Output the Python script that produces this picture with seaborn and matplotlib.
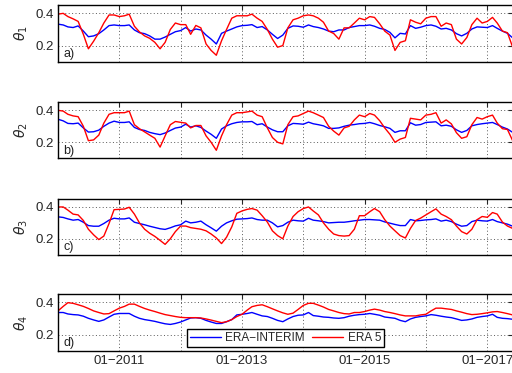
import numpy as np
import pandas as pd
import matplotlib
matplotlib.use("Agg")
import matplotlib.pyplot as plt
import matplotlib.dates as mdates
import seaborn as sns

# ---------------- data (monthly, Jan 2010 - Jun 2017) ----------------
start_month = "2010-01-01"
series_names = ["ERA\u2212INTERIM", "ERA 5"]
panel_labels = ["a)", "b)", "c)", "d)"]
ylabels = [r"$\theta_1$", r"$\theta_2$", r"$\theta_3$", r"$\theta_4$"]

interim_1 = [0.333,0.328,0.316,0.312,0.322,0.29,0.255,0.26,0.274,0.297,0.324,0.328,
             0.324,0.324,0.328,0.297,0.28,0.274,0.26,0.24,0.24,0.253,0.27,0.286,
             0.293,0.312,0.29,0.303,0.297,0.265,0.24,0.21,0.276,0.29,0.303,0.316,
             0.324,0.326,0.33,0.312,0.318,0.297,0.27,0.244,0.265,0.307,0.322,0.32,
             0.314,0.328,0.318,0.312,0.303,0.29,0.286,0.297,0.297,0.312,0.318,0.324,
             0.324,0.328,0.32,0.307,0.30,0.282,0.248,0.276,0.272,0.324,0.307,0.314,
             0.324,0.328,0.32,0.303,0.307,0.297,0.274,0.26,0.276,0.303,0.316,0.314,
             0.312,0.324,0.307,0.29,0.276,0.248]
era5_1 = [0.395,0.40,0.38,0.366,0.35,0.27,0.18,0.227,0.28,0.34,0.39,0.39,
          0.38,0.385,0.395,0.32,0.285,0.26,0.245,0.22,0.18,0.22,0.30,0.34,
          0.33,0.33,0.27,0.325,0.31,0.21,0.17,0.14,0.23,0.30,0.37,0.385,
          0.385,0.385,0.395,0.37,0.35,0.30,0.24,0.19,0.20,0.31,0.36,0.37,
          0.385,0.39,0.385,0.37,0.345,0.29,0.275,0.24,0.31,0.31,0.34,0.37,
          0.36,0.38,0.375,0.335,0.29,0.265,0.17,0.22,0.23,0.36,0.345,0.335,
          0.37,0.38,0.38,0.32,0.34,0.33,0.24,0.21,0.25,0.33,0.37,0.34,
          0.35,0.375,0.34,0.29,0.28,0.19]

interim_2 = [0.344,0.334,0.318,0.316,0.32,0.29,0.264,0.266,0.276,0.30,0.32,0.332,
             0.324,0.324,0.328,0.293,0.28,0.274,0.262,0.254,0.248,0.258,0.274,0.289,
             0.295,0.313,0.295,0.303,0.293,0.27,0.25,0.225,0.283,0.303,0.316,0.324,
             0.328,0.328,0.33,0.31,0.316,0.295,0.278,0.266,0.266,0.303,0.318,0.316,
             0.313,0.326,0.316,0.31,0.303,0.287,0.287,0.29,0.30,0.307,0.311,0.316,
             0.318,0.324,0.316,0.305,0.297,0.287,0.262,0.272,0.272,0.322,0.307,0.311,
             0.324,0.326,0.328,0.303,0.307,0.30,0.278,0.262,0.274,0.303,0.311,0.316,
             0.32,0.324,0.311,0.295,0.283,0.262]
era5_2 = [0.40,0.395,0.375,0.365,0.36,0.30,0.21,0.215,0.245,0.32,0.375,0.385,
          0.385,0.385,0.395,0.31,0.285,0.265,0.245,0.225,0.17,0.24,0.31,0.33,
          0.325,0.32,0.29,0.305,0.305,0.24,0.20,0.15,0.24,0.31,0.37,0.385,
          0.385,0.39,0.395,0.37,0.36,0.29,0.23,0.20,0.19,0.31,0.36,0.365,
          0.38,0.395,0.385,0.37,0.355,0.30,0.27,0.245,0.29,0.30,0.34,0.37,
          0.36,0.38,0.37,0.335,0.29,0.25,0.20,0.22,0.23,0.35,0.345,0.34,
          0.37,0.375,0.385,0.32,0.34,0.315,0.26,0.225,0.235,0.31,0.355,0.345,
          0.36,0.37,0.32,0.285,0.28,0.21]

interim_3 = [0.338,0.334,0.325,0.317,0.321,0.304,0.283,0.279,0.279,0.296,0.317,0.329,
             0.325,0.325,0.331,0.304,0.296,0.288,0.279,0.271,0.263,0.259,0.269,0.281,
             0.288,0.311,0.30,0.304,0.311,0.288,0.269,0.248,0.279,0.30,0.313,0.323,
             0.325,0.327,0.331,0.321,0.317,0.317,0.30,0.275,0.283,0.304,0.317,0.313,
             0.311,0.329,0.317,0.313,0.308,0.30,0.302,0.304,0.304,0.308,0.313,0.317,
             0.321,0.321,0.319,0.317,0.306,0.298,0.29,0.283,0.283,0.321,0.313,0.315,
             0.319,0.321,0.325,0.311,0.317,0.308,0.292,0.279,0.283,0.308,0.317,0.313,
             0.311,0.321,0.308,0.30,0.292,0.279]
era5_3 = [0.40,0.40,0.38,0.355,0.35,0.315,0.26,0.225,0.195,0.217,0.296,0.383,
          0.385,0.387,0.398,0.355,0.30,0.26,0.235,0.215,0.19,0.165,0.20,0.245,
          0.28,0.28,0.27,0.265,0.26,0.25,0.23,0.205,0.17,0.21,0.275,0.36,
          0.375,0.385,0.39,0.38,0.345,0.305,0.25,0.22,0.20,0.28,0.34,0.37,
          0.39,0.40,0.375,0.35,0.30,0.26,0.23,0.22,0.217,0.22,0.26,0.345,
          0.345,0.37,0.39,0.37,0.32,0.28,0.25,0.22,0.205,0.265,0.315,0.33,
          0.35,0.37,0.388,0.355,0.34,0.32,0.28,0.245,0.23,0.26,0.32,0.34,
          0.335,0.365,0.355,0.305,0.28,0.265]

interim_4 = [0.337,0.337,0.328,0.324,0.322,0.314,0.301,0.291,0.282,0.291,0.309,0.326,
             0.331,0.331,0.331,0.314,0.301,0.293,0.288,0.282,0.274,0.267,0.263,0.269,
             0.278,0.291,0.303,0.305,0.301,0.288,0.278,0.269,0.269,0.28,0.293,0.322,
             0.326,0.331,0.337,0.326,0.316,0.312,0.301,0.288,0.28,0.297,0.312,0.32,
             0.322,0.337,0.318,0.314,0.309,0.307,0.303,0.301,0.305,0.314,0.32,0.324,
             0.326,0.331,0.326,0.32,0.309,0.305,0.301,0.288,0.28,0.297,0.307,0.312,
             0.316,0.324,0.32,0.314,0.309,0.305,0.297,0.288,0.291,0.297,0.307,0.312,
             0.316,0.326,0.307,0.301,0.299,0.295]
era5_4 = [0.347,0.375,0.398,0.394,0.385,0.375,0.362,0.347,0.337,0.328,0.33,0.347,
          0.364,0.375,0.389,0.389,0.375,0.362,0.352,0.343,0.333,0.324,0.318,0.312,
          0.307,0.305,0.305,0.305,0.303,0.297,0.29,0.282,0.274,0.28,0.293,0.312,
          0.326,0.352,0.373,0.381,0.385,0.373,0.36,0.347,0.335,0.326,0.333,0.356,
          0.381,0.394,0.394,0.383,0.371,0.356,0.347,0.337,0.33,0.328,0.337,0.337,
          0.343,0.352,0.358,0.352,0.343,0.337,0.33,0.322,0.316,0.316,0.316,0.322,
          0.326,0.347,0.364,0.364,0.36,0.356,0.347,0.339,0.33,0.324,0.326,0.33,
          0.335,0.341,0.343,0.337,0.33,0.322]

interim_all = [interim_1, interim_2, interim_3, interim_4]
era5_all = [era5_1, era5_2, era5_3, era5_4]

# ---------------- style ----------------
sns.set_style("white")
plt.rcParams["font.family"] = ["Liberation Sans", "DejaVu Sans"]
plt.rcParams["mathtext.fontset"] = "dejavusans"
plt.rcParams["axes.linewidth"] = 1.0

fig = plt.figure(figsize=(5.12, 3.73), dpi=100)
left = 58 / 512
width = (513 - 58) / 512
tops = [5.3, 102.3, 199.0, 294.3]
bots = [61.7, 158.3, 254.7, 350.7]

n = len(interim_1)
dates = pd.date_range(start_month, periods=n, freq="MS")
palette = {series_names[0]: "#0000ff", series_names[1]: "#ff0000"}

xmin = pd.Timestamp("2010-01-01")
xmax = pd.Timestamp("2017-06-03")

for i in range(4):
    ax = fig.add_axes([left, 1 - bots[i] / 373, width, (bots[i] - tops[i]) / 373])
    df = pd.DataFrame({
        "date": list(dates) * 2,
        "theta": interim_all[i] + era5_all[i],
        "dataset": [series_names[0]] * n + [series_names[1]] * n,
    })
    sns.lineplot(data=df, x="date", y="theta", hue="dataset", palette=palette,
                 hue_order=series_names, ax=ax, linewidth=1.0,
                 legend=(i == 3))
    ax.set_xlim(xmin, xmax)
    ax.set_ylim(0.1, 0.45)
    ax.set_yticks([0.2, 0.4])
    ax.set_yticklabels(["0.2", "0.4"])
    ax.xaxis.set_major_locator(mdates.YearLocator())
    if i == 3:
        ax.xaxis.set_major_formatter(plt.FuncFormatter(
            lambda v, p: ("01\u2212%d" % mdates.num2date(v).year)
            if mdates.num2date(v).year % 2 == 1 else ""))
    else:
        ax.set_xticklabels([])
    ax.set_xlabel("")
    ax.set_ylabel(ylabels[i], fontsize=10, labelpad=4)
    ax.tick_params(direction="in", top=True, right=True, length=3.5,
                   width=0.8, labelsize=9.5, pad=3)
    ax.grid(True, linestyle=(0, (1, 2.5)), color="0.35", linewidth=0.7)
    for s in ax.spines.values():
        s.set_color("black")
        s.set_linewidth(1.0)
    ax.text(0.011, 0.08, panel_labels[i], transform=ax.transAxes,
            fontsize=9, color="#222222")
    if i == 3:
        leg = ax.legend(loc="lower center", bbox_to_anchor=(0.5, 0.06), ncol=2,
                        frameon=True, fancybox=False, edgecolor="black",
                        framealpha=1, fontsize=8.5, handlelength=2.6,
                        borderpad=0.25, columnspacing=0.6, handletextpad=0.4,
                        borderaxespad=0)
        leg.get_frame().set_linewidth(1.0)

fig.savefig("out.png", dpi=100)
